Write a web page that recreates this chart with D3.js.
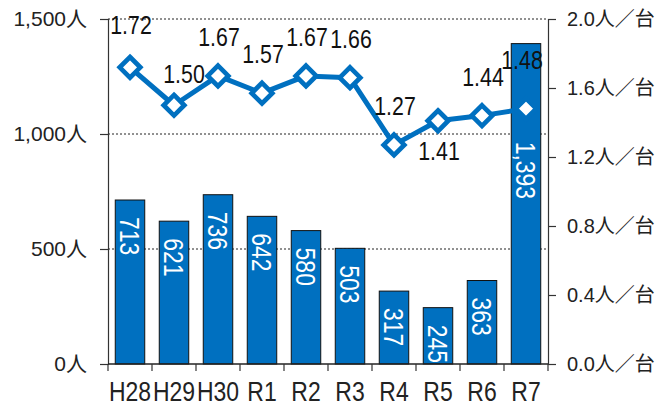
<!DOCTYPE html>
<html>
<head>
<meta charset="utf-8">
<script src="https://cdn.jsdelivr.net/npm/d3@7"></script>
<style>
  body { margin: 0; background: #fff; }
  svg { display: block; }
</style>
</head>
<body>
<div id="chart"></div>
<script>
// data
const years = ["H28", "H29", "H30", "R1", "R2", "R3", "R4", "R5", "R6", "R7"];
const people = [713, 621, 736, 642, 580, 503, 317, 245, 363, 1393];
const perUnit = [1.72, 1.50, 1.67, 1.57, 1.67, 1.66, 1.27, 1.41, 1.44, 1.48];
const leftTicks = [0, 500, 1000, 1500];
const rightTicks = [0, 0.4, 0.8, 1.2, 1.6, 2.0];

const width = 656;
const height = 406;
const margin = { top: 19, right: 108, bottom: 42, left: 108 };
const blue = "#0070C0";
const font = "'Liberation Sans', 'Noto Sans CJK JP', sans-serif";
const squeeze = 0.82; // the original's labels are horizontally condensed

const svg = d3.select("#chart").append("svg")
  .attr("width", width)
  .attr("height", height);

const x = d3.scaleBand()
  .domain(years)
  .range([margin.left, width - margin.right])
  .paddingInner(0.33)
  .paddingOuter(0.165);

const y = d3.scaleLinear()
  .domain([0, 1500])
  .range([height - margin.bottom, margin.top]);

const y2 = d3.scaleLinear()
  .domain([0, 2])
  .range([height - margin.bottom, margin.top]);

const step = x.step();
const center = d => x(d) + x.bandwidth() / 2;

// dashed gridlines (behind bars)
svg.append("g")
  .selectAll("line")
  .data(leftTicks.filter(d => d > 0))
  .enter()
  .append("line")
  .attr("x1", margin.left)
  .attr("x2", width - margin.right)
  .attr("y1", d => y(d))
  .attr("y2", d => y(d))
  .attr("stroke", "#222")
  .attr("stroke-width", 1)
  .attr("stroke-dasharray", "2,2");

// bars
svg.selectAll(".bar")
  .data(years)
  .enter()
  .append("rect")
  .attr("class", "bar")
  .attr("x", d => x(d))
  .attr("y", (d, i) => y(people[i]))
  .attr("width", x.bandwidth())
  .attr("height", (d, i) => y(0) - y(people[i]))
  .attr("fill", blue)
  .attr("stroke", "#111")
  .attr("stroke-width", 1);

// bar value labels, rotated, white
svg.selectAll(".bar-label")
  .data(years)
  .enter()
  .append("text")
  .attr("class", "bar-label")
  .attr("transform", (d, i) => {
    let top = y(people[i]) + 17;
    const my = y2(perUnit[i]);
    if (y(people[i]) < my) top = Math.max(top, my + 33); // keep clear of the marker
    return `translate(${center(d)},${top}) rotate(90) scale(${squeeze},1)`;
  })
  .attr("dominant-baseline", "central")
  .attr("text-anchor", "start")
  .style("font-family", font)
  .style("font-size", "28px")
  .attr("fill", "#fff")
  .text((d, i) => d3.format(",")(people[i]));

// left axis
const leftAxis = svg.append("g")
  .attr("transform", `translate(${margin.left},0)`)
  .call(d3.axisLeft(y).tickValues(leftTicks).tickSize(8).tickFormat(d => d3.format(",")(d) + "人"));

// right axis
const rightAxis = svg.append("g")
  .attr("transform", `translate(${width - margin.right},0)`)
  .call(d3.axisRight(y2).tickValues(rightTicks).tickSize(8).tickFormat(d => d.toFixed(1) + "人／台"));

[leftAxis, rightAxis].forEach(g => {
  g.select(".domain").attr("stroke", "#333").attr("stroke-width", 1.2);
  g.selectAll(".tick line").attr("stroke", "#333").attr("stroke-width", 1.2);
  g.selectAll(".tick text")
    .attr("fill", "#222")
    .style("font-family", font);
});
leftAxis.selectAll(".tick text").attr("x", -21).style("font-size", "21px");
rightAxis.selectAll(".tick text").attr("x", 19).style("font-size", "20px");

// bottom axis with ticks between categories
const base = y(0);
svg.append("line")
  .attr("x1", margin.left)
  .attr("x2", width - margin.right)
  .attr("y1", base)
  .attr("y2", base)
  .attr("stroke", "#222")
  .attr("stroke-width", 1.5);

svg.append("g")
  .selectAll("line")
  .data(d3.range(years.length + 1))
  .enter()
  .append("line")
  .attr("x1", i => margin.left + i * step)
  .attr("x2", i => margin.left + i * step)
  .attr("y1", base)
  .attr("y2", base + 7)
  .attr("stroke", "#333")
  .attr("stroke-width", 1.2);

svg.append("g")
  .selectAll("text")
  .data(years)
  .enter()
  .append("text")
  .attr("transform", d => `translate(${center(d)},401) scale(${squeeze},1)`)
  .attr("text-anchor", "middle")
  .style("font-family", font)
  .style("font-size", "28px")
  .attr("fill", "#222")
  .text(d => d);

// line series
const line = d3.line()
  .x((d, i) => center(years[i]))
  .y(d => y2(d));

svg.append("path")
  .datum(perUnit)
  .attr("d", line)
  .attr("fill", "none")
  .attr("stroke", blue)
  .attr("stroke-width", 5)
  .attr("stroke-linejoin", "round");

const r = 10.3;
svg.selectAll(".marker")
  .data(perUnit)
  .enter()
  .append("path")
  .attr("class", "marker")
  .attr("transform", (d, i) => `translate(${center(years[i])},${y2(d)})`)
  .attr("d", `M0,${-r}L${r},0L0,${r}L${-r},0Z`)
  .attr("fill", "#fff")
  .attr("stroke", blue)
  .attr("stroke-width", 4.7)
  .attr("stroke-linejoin", "miter");

// line labels; R5 sits below its marker, a few are nudged as in the original
const nudge = { H28: [1, -3], H29: [10, 8], R7: [-4, -10] };
svg.selectAll(".rate-label")
  .data(perUnit)
  .enter()
  .append("text")
  .attr("class", "rate-label")
  .attr("transform", (d, i) => {
    const n = nudge[years[i]] || [1, 0];
    const ty = years[i] === "R5" ? y2(d) + 39 : y2(d) - 30 + n[1];
    return `translate(${center(years[i]) + n[0]},${ty}) scale(${squeeze},1)`;
  })
  .attr("text-anchor", "middle")
  .style("font-family", font)
  .style("font-size", "26px")
  .attr("fill", "#111")
  .text(d => d.toFixed(2));
</script>
</body>
</html>
